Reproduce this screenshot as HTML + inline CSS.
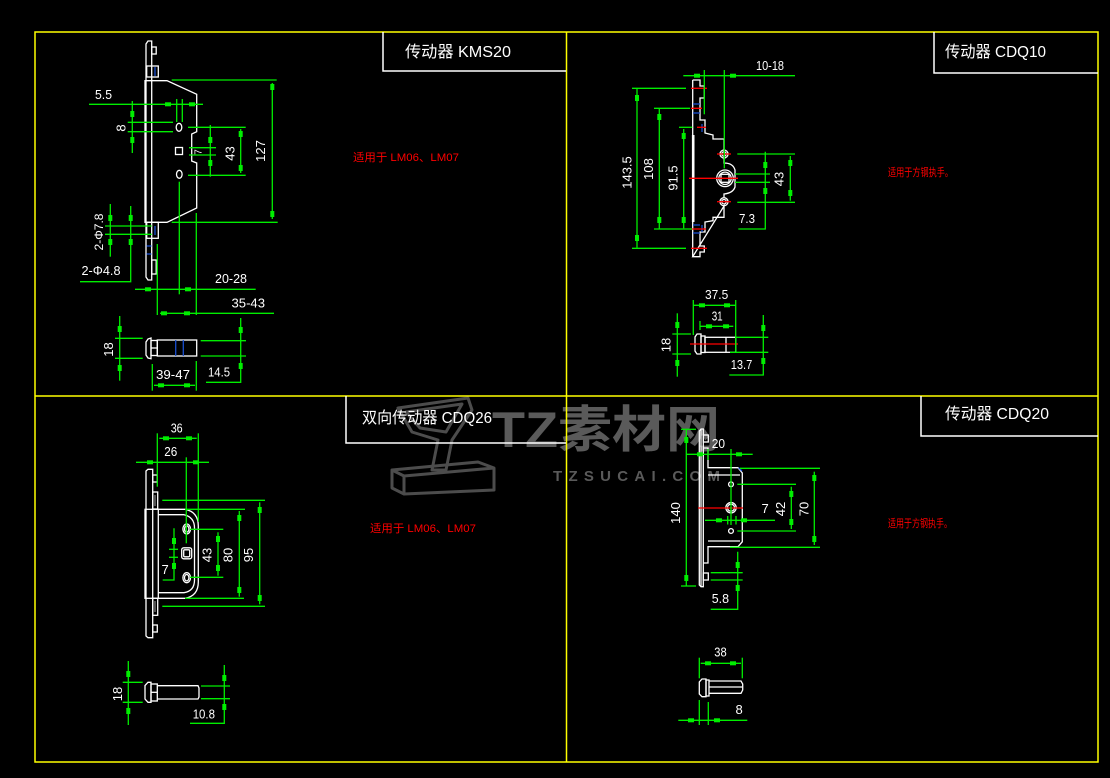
<!DOCTYPE html>
<html><head><meta charset="utf-8"><style>
html,body{margin:0;padding:0;background:#000;}
svg{display:block;}
</style></head><body>
<svg width="1110" height="778" viewBox="0 0 1110 778" xmlns="http://www.w3.org/2000/svg" font-family="'Liberation Sans','Noto Sans CJK SC',sans-serif">
<rect width="1110" height="778" fill="#000"/>

<!-- watermark -->
<g fill="none" stroke="#4c4c4c" stroke-width="3" stroke-linejoin="round">
  <path d="M398,408 L468,398 L472,410 L452,440 L446,470 L432,470 L438,440 L412,432 Z"/>
  <path d="M406,412 L462,404 L446,432 L420,428 Z"/>
  <path d="M392,470 L478,462 L494,468 L494,490 L404,494 L392,488 Z"/>
  <path d="M392,470 L404,476 L494,468 M404,476 L404,494"/>
</g>
<text x="492" y="447" font-size="50" font-weight="bold" fill="#5a5a5a" textLength="228" lengthAdjust="spacingAndGlyphs">TZ素材网</text>
<text x="553" y="481" font-size="15" font-weight="bold" fill="#5a5a5a" textLength="167" lengthAdjust="spacing">TZSUCAI.COM</text>

<!-- frame -->
<g stroke="#ffff00" stroke-width="1.5" fill="none">
  <rect x="35" y="32" width="1063" height="730"/>
  <line x1="566.5" y1="32" x2="566.5" y2="762"/>
  <line x1="35" y1="396" x2="1098" y2="396"/>
</g>

<!-- title boxes -->
<g stroke="#fff" stroke-width="1.5" fill="none">
  <polyline points="383,32 383,71 566,71"/>
  <polyline points="934,32 934,73 1098,73"/>
  <polyline points="346,396 346,443 566,443"/>
  <polyline points="921,396 921,436 1098,436"/>
</g>
<g fill="#fff" font-size="16">
  <text x="405" y="57" textLength="106" lengthAdjust="spacingAndGlyphs">传动器 KMS20</text>
  <text x="945" y="57" textLength="101" lengthAdjust="spacingAndGlyphs">传动器 CDQ10</text>
  <text x="362" y="423" textLength="130" lengthAdjust="spacingAndGlyphs">双向传动器 CDQ26</text>
  <text x="945" y="419" textLength="104" lengthAdjust="spacingAndGlyphs">传动器 CDQ20</text>
</g>
<g fill="#ff0000" font-size="11">
  <text x="353" y="161" textLength="106" lengthAdjust="spacingAndGlyphs">适用于  LM06、LM07</text>
  <text x="370" y="532" textLength="106" lengthAdjust="spacingAndGlyphs">适用于  LM06、LM07</text>
  <text x="888" y="176" textLength="65" lengthAdjust="spacingAndGlyphs">适用于方钢执手。</text>
  <text x="888" y="527" textLength="64" lengthAdjust="spacingAndGlyphs">适用于方钢执手。</text>
</g>

<!-- ===================== WHITE PART GEOMETRY ===================== -->
<g stroke="#fff" stroke-width="1.3" fill="none">
  <!-- KMS20 top view -->
  <path d="M146,44 L148,41 L151.7,41 L151.7,280 L148,280 L146,277 Z"/>
  <rect x="151.7" y="47" width="4.5" height="7"/>
  <rect x="146.7" y="66" width="11.6" height="11"/>
  <rect x="146.7" y="222.3" width="11.6" height="16"/>
  <rect x="151.7" y="260" width="4.5" height="14"/>
  <path d="M145,80.7 L167,80.7 L196.7,94.3 L196.7,131.7 L191.7,134 L191.7,161 L196.7,163 L196.7,208 L167,222.3 L145,222.3 Z"/>
  <ellipse cx="179" cy="127.3" rx="2.8" ry="4"/>
  <rect x="175.5" y="147.5" width="7" height="7"/>
  <ellipse cx="179.3" cy="174.3" rx="2.8" ry="4"/>
  <!-- KMS20 side view -->
  <path d="M148,339 L151,338 L151,358.7 L148,358 L146,355 L146,342 Z"/>
  <rect x="151" y="340.5" width="6.3" height="15"/>
  <line x1="151" y1="348" x2="157.3" y2="348"/>
  <rect x="157.3" y="340" width="39.4" height="16"/>

  <!-- CDQ10 -->
  <path d="M692.7,80 L700,80 L700,86 L704.3,86 L704.3,98 L700,98 L700,120 L705,120 L705,133 L713,135 L713,139 L724,139 L724,150"/>
  <path d="M724,158 L724,163 Q733,163 735,170 L735,187 Q733,193 724,194 L724,197"/>
  <path d="M724,206 L724,217.3 L713,217.3 L713,220.7 L705,222 L705,232 L700,232 L700,246 L704.3,246 L704.3,252 L700,252 L700,256.7 L692.7,256.7 Z"/>
  <line x1="692.7" y1="80" x2="692.7" y2="135"/>
  <line x1="692.7" y1="222" x2="692.7" y2="256.7"/>
  <circle cx="724" cy="154" r="4"/>
  <circle cx="724" cy="154" r="2.2"/>
  <circle cx="725" cy="178.3" r="8.3"/>
  <circle cx="725" cy="178.3" r="6.2"/>
  <rect x="721" y="174.3" width="8" height="8"/>
  <circle cx="724" cy="201.7" r="4"/>
  <circle cx="724" cy="201.7" r="2.2"/>
  <!-- CDQ10 side -->
  <path d="M697,334 L701,334 L701,354 L697,354 L695,351 L695,337 Z"/>
  <rect x="701" y="336" width="4" height="16.5"/>
  <rect x="705" y="337.3" width="30.7" height="15"/>
  <line x1="726" y1="337.3" x2="726" y2="352.3"/>

  <!-- CDQ26 -->
  <path d="M146,471 L148,469.3 L152.7,469.3 L152.7,637.7 L148,637.7 L146,636 Z"/>
  <rect x="152.7" y="475" width="4.6" height="7"/>
  <rect x="152.7" y="492" width="5" height="17"/>
  <rect x="152.7" y="598.3" width="5" height="17"/>
  <rect x="152.7" y="625" width="4.6" height="7"/>
  <rect x="145" y="509.3" width="13.3" height="89"/>
  <path d="M158.3,509.3 L185,509.3 Q198.3,512 198.3,526 L198.3,582 Q198.3,596 185,598.3 L158.3,598.3"/>
  <path d="M158.3,514.7 L184,514.7 Q194.5,517 194.5,528 L194.5,580 Q194.5,591 184,592.7 L158.3,592.7"/>
  <ellipse cx="186.7" cy="529" rx="3.8" ry="5"/>
  <ellipse cx="186.7" cy="529" rx="2.2" ry="3.2"/>
  <rect x="181.7" y="547.8" width="10" height="11" rx="2"/>
  <rect x="183.7" y="549.8" width="6" height="7" rx="1"/>
  <ellipse cx="186.7" cy="577.7" rx="3.8" ry="5"/>
  <ellipse cx="186.7" cy="577.7" rx="2.2" ry="3.2"/>
  <!-- CDQ26 side -->
  <path d="M148,682.3 L151,682.3 L151,702.3 L148,702.3 L145,699 L145,685.5 Z"/>
  <rect x="151" y="684" width="6.3" height="17"/>
  <line x1="151" y1="692.3" x2="157.3" y2="692.3"/>
  <path d="M157.3,685.7 L198,685.7 L199,688 L199,697 L198,699 L157.3,699"/>

  <!-- CDQ20 -->
  <path d="M699.3,431 L701,429 L703.3,429 L703.3,586.7 L701,586.7 L699.3,585 Z"/>
  <line x1="701" y1="429" x2="701" y2="586.7"/>
  <rect x="703.3" y="435" width="5" height="7"/>
  <path d="M703.3,448 L708,448 L708,467.7 L738,467.7 L742.3,473 L742.3,541.7 L738,546.7 L708,546.7 L708,563 L703.3,563"/>
  <line x1="708" y1="475" x2="740" y2="475"/>
  <line x1="708" y1="541" x2="740" y2="541"/>
  <rect x="703.3" y="573" width="5" height="7"/>
  <circle cx="731" cy="484.3" r="2.4"/>
  <circle cx="731" cy="507.7" r="5.2"/>
  <circle cx="731" cy="507.7" r="3.5"/>
  <circle cx="731" cy="531" r="2.4"/>
  <!-- CDQ20 side -->
  <path d="M702,679 L706,679 L706,696.7 L702,696.7 L699.3,694 L699.3,682 Z"/>
  <rect x="706" y="680" width="3" height="16"/>
  <path d="M709,681 L741,681 L742.7,684 L742.7,690 L741,693.3 L709,693.3"/>
  <line x1="709" y1="687" x2="742" y2="687"/>
</g>
<!-- bold white line on CDQ10 strip -->
<line x1="693.2" y1="135" x2="693.2" y2="222" stroke="#fff" stroke-width="2.6"/>

<!-- blue accents -->
<g stroke="#1a4fd0" stroke-width="1.3">
  <line x1="155" y1="67" x2="155" y2="76"/>
  <line x1="155" y1="226" x2="155" y2="235"/>
  <line x1="146.5" y1="246" x2="151.5" y2="246"/>
  <line x1="146.5" y1="254" x2="151.5" y2="254"/>
  <line x1="175.7" y1="340" x2="175.7" y2="356"/>
  <line x1="183.3" y1="340" x2="183.3" y2="356"/>
  <line x1="693" y1="104" x2="700" y2="104"/>
  <line x1="693" y1="113" x2="700" y2="113"/>
  <line x1="702" y1="124" x2="702" y2="132"/>
  <line x1="693" y1="225" x2="700" y2="225"/>
  <line x1="693" y1="233" x2="700" y2="233"/>
  <line x1="702" y1="225" x2="702" y2="232"/>
  <path d="M738.5,467.7 L742,471" fill="none"/>
</g>
<g stroke="#888" stroke-width="1.2">
  <line x1="155" y1="495" x2="155" y2="506"/>
  <line x1="155" y1="601" x2="155" y2="612"/>
</g>

<!-- red centre lines -->
<g stroke="#ff0000" stroke-width="1.3">
  <line x1="691" y1="88.3" x2="707" y2="88.3"/>
  <line x1="691" y1="108.3" x2="702" y2="108.3"/>
  <line x1="697" y1="127.3" x2="706" y2="127.3"/>
  <line x1="717" y1="154" x2="731" y2="154"/>
  <line x1="689" y1="178.3" x2="738" y2="178.3"/>
  <line x1="717" y1="201.7" x2="731" y2="201.7"/>
  <line x1="690" y1="229" x2="706" y2="229"/>
  <line x1="691" y1="248.3" x2="707" y2="248.3"/>
  <line x1="690" y1="344" x2="738" y2="344"/>
  <line x1="698" y1="508" x2="743" y2="508"/>
</g>

<!-- ===================== GREEN DIMENSIONS ===================== -->
<g stroke="#00ee00" stroke-width="1.3" fill="none">
  <!-- KMS20 -->
  <line x1="89" y1="104.3" x2="203" y2="104.3"/>
  <line x1="176.7" y1="99" x2="176.7" y2="122"/>
  <line x1="182.3" y1="99" x2="182.3" y2="122"/>
  <line x1="132.3" y1="101" x2="132.3" y2="153"/>
  <line x1="127.7" y1="122.3" x2="173" y2="122.3"/>
  <line x1="127.7" y1="131.7" x2="173" y2="131.7"/>
  <line x1="210.3" y1="125" x2="210.3" y2="176.7"/>
  <line x1="189" y1="147.7" x2="216" y2="147.7"/>
  <line x1="189" y1="155" x2="216" y2="155"/>
  <line x1="240.7" y1="129" x2="240.7" y2="173"/>
  <line x1="188" y1="127.3" x2="245.7" y2="127.3"/>
  <line x1="188" y1="175.3" x2="245.7" y2="175.3"/>
  <line x1="272.3" y1="83" x2="272.3" y2="219"/>
  <line x1="171.7" y1="80" x2="276.7" y2="80"/>
  <line x1="171.7" y1="222.3" x2="277.7" y2="222.3"/>
  <line x1="110.3" y1="204" x2="110.3" y2="256.7"/>
  <line x1="105" y1="226" x2="151.7" y2="226"/>
  <line x1="105" y1="234.3" x2="151.7" y2="234.3"/>
  <polyline points="130.7,206 130.7,281.7 80,281.7"/>
  <line x1="135" y1="289.3" x2="255.7" y2="289.3"/>
  <line x1="179.3" y1="181.7" x2="179.3" y2="294.3"/>
  <line x1="157.3" y1="244" x2="157.3" y2="315"/>
  <line x1="160" y1="313.3" x2="274" y2="313.3"/>
  <line x1="196.3" y1="213" x2="196.3" y2="315"/>
  <line x1="119.7" y1="316" x2="119.7" y2="380.7"/>
  <line x1="115" y1="338.3" x2="142.7" y2="338.3"/>
  <line x1="115" y1="358.3" x2="142.7" y2="358.3"/>
  <line x1="154" y1="385.3" x2="195" y2="385.3"/>
  <line x1="152.3" y1="364" x2="152.3" y2="390.7"/>
  <line x1="196.3" y1="361" x2="196.3" y2="390.7"/>
  <line x1="200.7" y1="340.7" x2="246" y2="340.7"/>
  <line x1="200.7" y1="356" x2="246" y2="356"/>
  <polyline points="240.7,318 240.7,382.3 206,382.3"/>

  <!-- CDQ10 -->
  <line x1="683.3" y1="75.7" x2="795" y2="75.7"/>
  <line x1="704.3" y1="70" x2="704.3" y2="114.3"/>
  <line x1="724.3" y1="70" x2="724.3" y2="168.3"/>
  <line x1="637" y1="88.3" x2="637" y2="247.7"/>
  <line x1="632" y1="88.3" x2="686" y2="88.3"/>
  <line x1="632" y1="248.3" x2="686" y2="248.3"/>
  <line x1="659.3" y1="108.3" x2="659.3" y2="229"/>
  <line x1="654" y1="108.3" x2="690" y2="108.3"/>
  <line x1="654" y1="229" x2="692" y2="229"/>
  <line x1="683.7" y1="129" x2="683.7" y2="228.3"/>
  <line x1="679" y1="127.3" x2="692.3" y2="127.3"/>
  <line x1="790.3" y1="156" x2="790.3" y2="200.7"/>
  <line x1="737.3" y1="154" x2="795" y2="154"/>
  <line x1="737.3" y1="202.3" x2="795" y2="202.3"/>
  <polyline points="765.3,151.7 765.3,229 738.3,229"/>
  <line x1="735" y1="174" x2="770" y2="174"/>
  <line x1="735" y1="182.3" x2="770" y2="182.3"/>
  <line x1="693.3" y1="305.3" x2="735.7" y2="305.3"/>
  <line x1="693.3" y1="300" x2="693.3" y2="335"/>
  <line x1="735.7" y1="300" x2="735.7" y2="351.7"/>
  <line x1="700" y1="326.3" x2="733.3" y2="326.3"/>
  <line x1="700" y1="321" x2="700" y2="330"/>
  <line x1="677.3" y1="313.3" x2="677.3" y2="376.7"/>
  <line x1="672.3" y1="334" x2="691" y2="334"/>
  <line x1="672.3" y1="354" x2="691" y2="354"/>
  <line x1="735.7" y1="337.3" x2="768.3" y2="337.3"/>
  <line x1="730" y1="352.3" x2="768.3" y2="352.3"/>
  <polyline points="763.3,315 763.3,375 729.3,375"/>

  <!-- CDQ26 -->
  <line x1="159.3" y1="438.3" x2="196.7" y2="438.3"/>
  <line x1="157.3" y1="433.3" x2="157.3" y2="486.7"/>
  <line x1="198.3" y1="433.3" x2="198.3" y2="521.7"/>
  <line x1="136" y1="462.3" x2="209" y2="462.3"/>
  <line x1="186.3" y1="457.3" x2="186.3" y2="543.3"/>
  <polyline points="174,528.3 174,580 162.7,580"/>
  <line x1="169" y1="549.3" x2="178" y2="549.3"/>
  <line x1="169" y1="557.3" x2="178" y2="557.3"/>
  <line x1="218" y1="532.3" x2="218" y2="575.7"/>
  <line x1="190" y1="529.3" x2="223.3" y2="529.3"/>
  <line x1="190" y1="577.3" x2="223.3" y2="577.3"/>
  <line x1="239.3" y1="511" x2="239.3" y2="596.7"/>
  <line x1="185" y1="509.3" x2="245" y2="509.3"/>
  <line x1="185" y1="598.3" x2="244" y2="598.3"/>
  <line x1="259.7" y1="502.3" x2="259.7" y2="604.3"/>
  <line x1="162.3" y1="500.3" x2="265" y2="500.3"/>
  <line x1="162.3" y1="606.3" x2="265" y2="606.3"/>
  <line x1="128.3" y1="661" x2="128.3" y2="725"/>
  <line x1="122.7" y1="682.3" x2="142.7" y2="682.3"/>
  <line x1="122.7" y1="702.3" x2="142.7" y2="702.3"/>
  <line x1="201" y1="686" x2="230" y2="686"/>
  <line x1="201" y1="698.7" x2="230" y2="698.7"/>
  <polyline points="224.3,665 224.3,723.3 190,723.3"/>

  <!-- CDQ20 -->
  <line x1="686.3" y1="430" x2="686.3" y2="586"/>
  <line x1="681" y1="429.3" x2="696" y2="429.3"/>
  <line x1="681" y1="586" x2="696" y2="586"/>
  <line x1="686.7" y1="454.3" x2="752.7" y2="454.3"/>
  <line x1="731" y1="449" x2="731" y2="525"/>
  <line x1="708" y1="449" x2="708" y2="460"/>
  <line x1="705" y1="520.3" x2="775" y2="520.3"/>
  <line x1="727.7" y1="516" x2="727.7" y2="524.5"/>
  <line x1="736" y1="516" x2="736" y2="524.5"/>
  <line x1="791.3" y1="486.7" x2="791.3" y2="529"/>
  <line x1="737.3" y1="484.3" x2="796" y2="484.3"/>
  <line x1="737.3" y1="531" x2="796" y2="531"/>
  <line x1="814.3" y1="471.7" x2="814.3" y2="545"/>
  <line x1="740" y1="468.3" x2="820" y2="468.3"/>
  <line x1="730" y1="547.3" x2="820" y2="547.3"/>
  <polyline points="737.7,551.7 737.7,609.3 710.7,609.3"/>
  <line x1="710.7" y1="572.7" x2="742.7" y2="572.7"/>
  <line x1="710.7" y1="580" x2="742.7" y2="580"/>
  <line x1="700.7" y1="663.3" x2="741" y2="663.3"/>
  <line x1="699.3" y1="657.7" x2="699.3" y2="678.3"/>
  <line x1="742.3" y1="657.7" x2="742.3" y2="678.3"/>
  <line x1="678.3" y1="720.3" x2="747.3" y2="720.3"/>
  <line x1="699.3" y1="700" x2="699.3" y2="725"/>
  <line x1="708.3" y1="702" x2="708.3" y2="725"/>
</g>

<!-- arrow ticks: horizontal (6x4) -->
<g fill="#00ee00">
  <rect x="165" y="102.3" width="6" height="4"/><rect x="189" y="102.3" width="6" height="4"/>
  <rect x="145" y="287.3" width="6" height="4"/><rect x="185" y="287.3" width="6" height="4"/>
  <rect x="161" y="311.3" width="6" height="4"/><rect x="184" y="311.3" width="6" height="4"/>
  <rect x="158" y="383.3" width="6" height="4"/><rect x="184" y="383.3" width="6" height="4"/>
  <rect x="694" y="73.7" width="6" height="4"/><rect x="730" y="73.7" width="6" height="4"/>
  <rect x="699" y="303.3" width="6" height="4"/><rect x="724" y="303.3" width="6" height="4"/>
  <rect x="706" y="324.3" width="6" height="4"/><rect x="723" y="324.3" width="6" height="4"/>
  <rect x="163" y="436.3" width="6" height="4"/><rect x="186" y="436.3" width="6" height="4"/>
  <rect x="147" y="460.3" width="6" height="4"/><rect x="193" y="460.3" width="6" height="4"/>
  <rect x="697" y="452.3" width="6" height="4"/><rect x="736" y="452.3" width="6" height="4"/>
  <rect x="716" y="518.3" width="6" height="4"/><rect x="741" y="518.3" width="6" height="4"/>
  <rect x="705" y="661.3" width="6" height="4"/><rect x="730" y="661.3" width="6" height="4"/>
  <rect x="688" y="718.3" width="6" height="4"/><rect x="714" y="718.3" width="6" height="4"/>
</g>
<!-- arrow ticks: vertical (4x6) -->
<g fill="#00ee00">
  <rect x="130.3" y="111" width="4" height="6"/><rect x="130.3" y="137" width="4" height="6"/>
  <rect x="208.3" y="137" width="4" height="6"/><rect x="208.3" y="160" width="4" height="6"/>
  <rect x="238.7" y="131" width="4" height="6"/><rect x="238.7" y="165" width="4" height="6"/>
  <rect x="270.3" y="84" width="4" height="6"/><rect x="270.3" y="211" width="4" height="6"/>
  <rect x="108.3" y="215" width="4" height="6"/><rect x="108.3" y="239" width="4" height="6"/>
  <rect x="128.7" y="215" width="4" height="6"/><rect x="128.7" y="239" width="4" height="6"/>
  <rect x="117.7" y="326" width="4" height="6"/><rect x="117.7" y="365" width="4" height="6"/>
  <rect x="238.7" y="327" width="4" height="6"/><rect x="238.7" y="363" width="4" height="6"/>
  <rect x="635" y="95" width="4" height="6"/><rect x="635" y="235" width="4" height="6"/>
  <rect x="657.3" y="114" width="4" height="6"/><rect x="657.3" y="217" width="4" height="6"/>
  <rect x="681.7" y="133" width="4" height="6"/><rect x="681.7" y="217" width="4" height="6"/>
  <rect x="788.3" y="160" width="4" height="6"/><rect x="788.3" y="190" width="4" height="6"/>
  <rect x="763.3" y="162" width="4" height="6"/><rect x="763.3" y="188" width="4" height="6"/>
  <rect x="675.3" y="322" width="4" height="6"/><rect x="675.3" y="360" width="4" height="6"/>
  <rect x="761.3" y="325" width="4" height="6"/><rect x="761.3" y="358" width="4" height="6"/>
  <rect x="172" y="538" width="4" height="6"/><rect x="172" y="563" width="4" height="6"/>
  <rect x="216" y="536" width="4" height="6"/><rect x="216" y="565" width="4" height="6"/>
  <rect x="237.3" y="515" width="4" height="6"/><rect x="237.3" y="587" width="4" height="6"/>
  <rect x="257.7" y="507" width="4" height="6"/><rect x="257.7" y="595" width="4" height="6"/>
  <rect x="126.3" y="671" width="4" height="6"/><rect x="126.3" y="708" width="4" height="6"/>
  <rect x="222.3" y="675" width="4" height="6"/><rect x="222.3" y="704" width="4" height="6"/>
  <rect x="684.3" y="437" width="4" height="6"/><rect x="684.3" y="575" width="4" height="6"/>
  <rect x="789.3" y="491" width="4" height="6"/><rect x="789.3" y="519" width="4" height="6"/>
  <rect x="812.3" y="475" width="4" height="6"/><rect x="812.3" y="536" width="4" height="6"/>
  <rect x="735.7" y="562" width="4" height="6"/><rect x="735.7" y="585" width="4" height="6"/>
</g>

<!-- dimension texts -->
<g fill="#fff" font-size="13">
  <text x="95" y="99" textLength="17" lengthAdjust="spacingAndGlyphs">5.5</text>
  <text transform="translate(121,128) rotate(-90)" text-anchor="middle" dominant-baseline="central">8</text>
  <text transform="translate(199,152) rotate(-90)" text-anchor="middle" dominant-baseline="central" font-size="10">7</text>
  <text transform="translate(230,153.5) rotate(-90)" text-anchor="middle" dominant-baseline="central">43</text>
  <text transform="translate(260.5,151) rotate(-90)" text-anchor="middle" dominant-baseline="central">127</text>
  <text transform="translate(99,232) rotate(-90)" text-anchor="middle" dominant-baseline="central" font-size="12">2-Φ7.8</text>
  <text x="81.5" y="275" textLength="39" lengthAdjust="spacingAndGlyphs">2-Φ4.8</text>
  <text x="215" y="283" textLength="32" lengthAdjust="spacingAndGlyphs">20-28</text>
  <text x="231.5" y="307.5" textLength="33.5" lengthAdjust="spacingAndGlyphs">35-43</text>
  <text transform="translate(108.5,349.5) rotate(-90)" text-anchor="middle" dominant-baseline="central">18</text>
  <text x="156" y="379" textLength="34" lengthAdjust="spacingAndGlyphs">39-47</text>
  <text x="208" y="376.5" textLength="22" lengthAdjust="spacingAndGlyphs">14.5</text>

  <text x="756" y="70" textLength="28" lengthAdjust="spacingAndGlyphs">10-18</text>
  <text transform="translate(627,172.5) rotate(-90)" text-anchor="middle" dominant-baseline="central">143.5</text>
  <text transform="translate(648.7,169) rotate(-90)" text-anchor="middle" dominant-baseline="central">108</text>
  <text transform="translate(673,178) rotate(-90)" text-anchor="middle" dominant-baseline="central">91.5</text>
  <text transform="translate(779,179) rotate(-90)" text-anchor="middle" dominant-baseline="central">43</text>
  <text x="739" y="223" textLength="16" lengthAdjust="spacingAndGlyphs">7.3</text>
  <text x="705" y="299" textLength="23.3" lengthAdjust="spacingAndGlyphs">37.5</text>
  <text x="711.7" y="320.5" textLength="11" lengthAdjust="spacingAndGlyphs">31</text>
  <text transform="translate(666,345) rotate(-90)" text-anchor="middle" dominant-baseline="central">18</text>
  <text x="730.7" y="369" textLength="21.6" lengthAdjust="spacingAndGlyphs">13.7</text>

  <text x="170.7" y="432.3" textLength="12" lengthAdjust="spacingAndGlyphs">36</text>
  <text x="164.3" y="456" textLength="13" lengthAdjust="spacingAndGlyphs">26</text>
  <text x="161.5" y="574">7</text>
  <text transform="translate(207,555) rotate(-90)" text-anchor="middle" dominant-baseline="central">43</text>
  <text transform="translate(228,555) rotate(-90)" text-anchor="middle" dominant-baseline="central">80</text>
  <text transform="translate(248.7,555) rotate(-90)" text-anchor="middle" dominant-baseline="central">95</text>
  <text transform="translate(117.7,694) rotate(-90)" text-anchor="middle" dominant-baseline="central">18</text>
  <text x="192.7" y="718.3" textLength="22.3" lengthAdjust="spacingAndGlyphs">10.8</text>

  <text transform="translate(675.7,513) rotate(-90)" text-anchor="middle" dominant-baseline="central">140</text>
  <text x="711.7" y="448" textLength="13.3" lengthAdjust="spacingAndGlyphs">20</text>
  <text x="761.5" y="513">7</text>
  <text transform="translate(780.3,509) rotate(-90)" text-anchor="middle" dominant-baseline="central">42</text>
  <text transform="translate(804,509) rotate(-90)" text-anchor="middle" dominant-baseline="central">70</text>
  <text x="711.7" y="603" textLength="17.3" lengthAdjust="spacingAndGlyphs">5.8</text>
  <text x="714.3" y="656.7" textLength="12.4" lengthAdjust="spacingAndGlyphs">38</text>
  <text x="735.5" y="714">8</text>
</g>
</svg>
</body></html>
